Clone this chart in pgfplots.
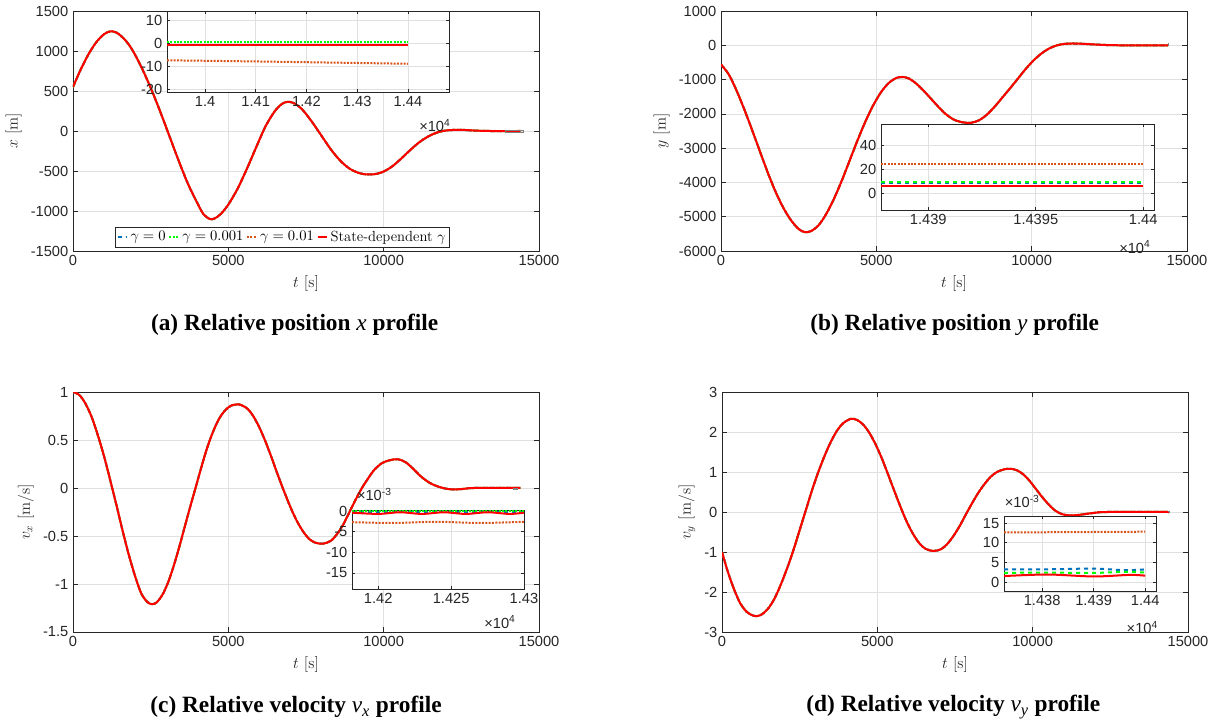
\documentclass[border=0pt]{standalone}
\usepackage{fontspec}
\usepackage{pgfplots}
\pgfplotsset{compat=1.18}
\usepackage{pgfplotstable}
\newfontfamily\arialfont{Liberation Sans}
\newfontfamily\timesfont{Liberation Serif}
\newcommand\tickfont{\arialfont\fontsize{11}{13}\selectfont}
\definecolor{mblue}{rgb}{0,0.447,0.741}
\definecolor{mgreen}{rgb}{0,1,0}
\definecolor{morange}{rgb}{0.85,0.325,0.098}
\definecolor{mred}{rgb}{1,0,0}
\definecolor{axgray}{rgb}{0.15,0.15,0.15}

\pgfplotstableread{
t v
0 550
250 770
500 960
750 1110
1000 1210
1200 1245
1400 1230
1650 1150
1900 1020
2200 800
2500 540
2800 250
3100 -60
3400 -370
3700 -660
4000 -900
4200 -1040
4400 -1100
4550 -1095
4750 -1040
5000 -920
5300 -720
5600 -470
5900 -200
6200 60
6500 250
6750 345
6950 365
7150 340
7400 260
7700 110
8000 -60
8300 -230
8600 -370
8900 -470
9200 -525
9450 -543
9700 -540
9950 -515
10250 -450
10550 -350
10850 -240
11150 -140
11450 -65
11750 -15
12050 8
12450 15
12900 6
13400 0
14400 0
}\datx

\pgfplotstableread{
t v
0 -560
250 -850
500 -1320
750 -1870
1000 -2470
1250 -3090
1500 -3700
1750 -4260
2000 -4730
2250 -5100
2500 -5360
2700 -5450
2900 -5420
3150 -5240
3400 -4900
3650 -4450
3900 -3920
4150 -3340
4400 -2760
4650 -2220
4900 -1750
5150 -1370
5400 -1100
5650 -950
5850 -925
6050 -970
6300 -1130
6600 -1400
6900 -1700
7200 -1980
7500 -2170
7800 -2250
8050 -2260
8300 -2190
8550 -2030
8800 -1800
9050 -1530
9300 -1260
9550 -980
9800 -700
10050 -450
10300 -250
10550 -100
10800 -5
11050 40
11300 52
11600 45
12000 25
12400 8
12900 0
14400 0
}\daty

\pgfplotstableread{
t v
0 1.0
200 0.97
400 0.88
600 0.74
800 0.55
1000 0.33
1200 0.08
1400 -0.18
1600 -0.45
1800 -0.7
2000 -0.92
2200 -1.1
2400 -1.19
2550 -1.21
2700 -1.19
2900 -1.1
3100 -0.95
3300 -0.75
3500 -0.52
3700 -0.28
3900 -0.05
4100 0.18
4300 0.4
4500 0.58
4700 0.72
4900 0.81
5100 0.86
5350 0.87
5600 0.83
5800 0.75
6000 0.63
6200 0.48
6400 0.31
6600 0.13
6800 -0.04
7000 -0.2
7200 -0.34
7400 -0.45
7600 -0.53
7800 -0.57
8050 -0.58
8300 -0.55
8500 -0.48
8700 -0.38
8900 -0.25
9100 -0.12
9300 0.0
9500 0.1
9700 0.19
9950 0.26
10200 0.29
10450 0.3
10700 0.27
10950 0.2
11200 0.12
11500 0.05
11800 0.01
12100 -0.012
12500 -0.012
12900 0
14400 0
}\datvx

\pgfplotstableread{
t v
0 -1.0
150 -1.4
300 -1.75
450 -2.05
600 -2.3
800 -2.5
1000 -2.59
1150 -2.6
1300 -2.55
1500 -2.4
1700 -2.15
1900 -1.8
2100 -1.4
2300 -0.95
2500 -0.45
2700 0.05
2900 0.55
3100 1.0
3300 1.4
3500 1.75
3700 2.03
3900 2.22
4150 2.33
4350 2.3
4550 2.18
4750 1.97
4950 1.68
5150 1.33
5350 0.93
5550 0.52
5750 0.12
5950 -0.25
6150 -0.55
6350 -0.78
6550 -0.92
6800 -0.975
7050 -0.93
7250 -0.8
7450 -0.6
7650 -0.35
7850 -0.06
8050 0.22
8250 0.48
8450 0.7
8650 0.88
8850 1.0
9100 1.07
9300 1.08
9500 1.04
9700 0.94
9900 0.78
10100 0.58
10300 0.38
10500 0.2
10700 0.05
10900 -0.04
11100 -0.08
11400 -0.08
11700 -0.05
12000 -0.02
12400 0
14400 0
}\datvy

\pgfplotsset{
  mat/.style={
    scale only axis, anchor=south west, scaled ticks=false,
    axis line style={draw=axgray, line width=0.5pt},
    every tick/.style={draw=axgray, line width=0.5pt},
    grid=major, major grid style={draw=black!12, line width=0.5pt},
    tick align=inside, major tick length=3.5pt,
    ticklabel style={font=\tickfont, text=axgray},
    label style={font=\fontsize{12}{14}\selectfont, text=axgray},
    axis background/.style={fill=white},
    clip mode=individual,
  },
  sb/.style={mblue, dashed, line width=1.5pt},
  sg/.style={mgreen, densely dotted, line width=1.5pt},
  sgd/.style={mgreen, dashed, line width=1.5pt},
  so/.style={morange, densely dotted, line width=1.5pt},
  sr/.style={mred, line width=1.5pt},
}

\begin{document}
\begin{tikzpicture}
\path[use as bounding box] (0,0) rectangle (912.75pt,543pt);

% (a)
\begin{axis}[mat, at={(54.75pt,354.75pt)}, width=349.5pt, height=180pt,
  xmin=0, xmax=15000, ymin=-1500, ymax=1500,
  xtick={0,5000,10000,15000}, xticklabels={0,5000,10000,15000},
  ytick={-1500,-1000,-500,0,500,1000,1500},
  yticklabels={-1500,-1000,-500,0,500,1000,1500},
  xlabel={$t\ [\mathrm{s}]$}, ylabel={$x\ [\mathrm{m}]$},
  legend style={at={(0.4496,0.058)}, anchor=center, draw=axgray, line width=0.5pt,
    font=\fontsize{11}{13}\selectfont, inner sep=1pt, row sep=0pt,
    /tikz/every even column/.append style={column sep=0pt}},
  legend columns=-1,
  legend image code/.code={\draw[#1] (0pt,0pt) -- (7pt,0pt);},
]
\addplot[sb, smooth] table {\datx}; \addlegendentry{$\gamma=0$}
\addplot[sg, smooth] table {\datx}; \addlegendentry{$\gamma=0.001$}
\addplot[so, smooth] table {\datx}; \addlegendentry{$\gamma=0.01$}
\addplot[sr, smooth] table {\datx}; \addlegendentry{State-dependent $\gamma$}
\addplot[gray, line width=0.5pt, forget plot] coordinates {(13925,-21) (14481,-21) (14481,14) (13925,14) (13925,-21)};
\end{axis}

% (b)
\begin{axis}[mat, at={(540.75pt,354.75pt)}, width=349.5pt, height=180pt,
  xmin=0, xmax=15000, ymin=-6000, ymax=1000,
  xtick={0,5000,10000,15000}, xticklabels={0,5000,10000,15000},
  ytick={-6000,-5000,...,1000},
  yticklabels={-6000,-5000,-4000,-3000,-2000,-1000,0,1000},
  xlabel={$t\ [\mathrm{s}]$}, ylabel={$y\ [\mathrm{m}]$},
]
\addplot[sb, smooth] table {\daty};
\addplot[sg, smooth] table {\daty};
\addplot[so, smooth] table {\daty};
\addplot[sr, smooth] table {\daty};
\addplot[gray, line width=0.5pt] coordinates {(14387.8,-14) (14400.5,-14) (14400.5,57.5) (14387.8,57.5) (14387.8,-14)};
\end{axis}

% (c)
\begin{axis}[mat, at={(54.75pt,69pt)}, width=349.5pt, height=180pt,
  xmin=0, xmax=15000, ymin=-1.5, ymax=1,
  xtick={0,5000,10000,15000}, xticklabels={0,5000,10000,15000},
  ytick={-1.5,-1,-0.5,0,0.5,1},
  yticklabels={-1.5,-1,-0.5,0,0.5,1},
  xlabel={$t\ [\mathrm{s}]$}, ylabel={$v_x\ [\mathrm{m/s}]$},
]
\addplot[sb, smooth] table {\datvx};
\addplot[sg, smooth] table {\datvx};
\addplot[so, smooth] table {\datvx};
\addplot[sr, smooth] table {\datvx};
\addplot[gray, line width=0.5pt] coordinates {(14182,-0.0189) (14300,-0.0189) (14300,0.0003) (14182,0.0003) (14182,-0.0189)};
\end{axis}

% (d)
\begin{axis}[mat, at={(541.5pt,69pt)}, width=349.5pt, height=180pt,
  xmin=0, xmax=15000, ymin=-3, ymax=3,
  xtick={0,5000,10000,15000}, xticklabels={0,5000,10000,15000},
  ytick={-3,-2,...,3},
  yticklabels={-3,-2,-1,0,1,2,3},
  xlabel={$t\ [\mathrm{s}]$}, ylabel={$v_y\ [\mathrm{m/s}]$},
]
\addplot[sb, smooth] table {\datvy};
\addplot[sg, smooth] table {\datvy};
\addplot[so, smooth] table {\datvy};
\addplot[sr, smooth] table {\datvy};
\addplot[gray, line width=0.5pt] coordinates {(14372.6,-0.0023) (14402.1,-0.0023) (14402.1,0.0168) (14372.6,0.0168) (14372.6,-0.0023)};
\end{axis}

% inset (a)
\begin{axis}[mat, at={(125.25pt,474pt)}, width=211.5pt, height=60.75pt,
  xmin=13925, xmax=14481, ymin=-21, ymax=14,
  xtick={14000,14100,14200,14300,14400}, xticklabels={1.4,1.41,1.42,1.43,1.44},
  ytick={-20,-10,0,10}, yticklabels={-20,-10,0,10}, major tick length=2.5pt,
]
\addplot[sb] coordinates {(13925,-0.5) (14400,-0.5)};
\addplot[sg] coordinates {(13925,0.6) (14400,0.6)};
\addplot[so] coordinates {(13925,-7.3) (14100,-7.8) (14250,-8.3) (14400,-8.8)};
\addplot[sr] coordinates {(13925,-0.9) (14400,-0.9)};
\node[font=\tickfont, text=axgray] at (rel axis cs:0.95,-0.41) {×10\textsuperscript{4}};
\end{axis}

% inset (b)
\begin{axis}[mat, at={(660.75pt,385.5pt)}, width=204.75pt, height=64.5pt,
  xmin=14387.8, xmax=14400.5, ymin=-14, ymax=57.5,
  xtick={14390,14395,14400}, xticklabels={1.439,1.4395,1.44},
  ytick={0,20,40}, yticklabels={0,20,40}, major tick length=2.5pt,
]
\addplot[sb] coordinates {(14387.8,8.7) (14400,8.7)};
\addplot[sgd] coordinates {(14387.8,9.2) (14400,9.2)};
\addplot[so] coordinates {(14387.8,24.2) (14400,24.2)};
\addplot[sr] coordinates {(14387.8,5.8) (14400,5.8)};
\node[font=\tickfont, text=axgray] at (rel axis cs:0.93,-0.43) {×10\textsuperscript{4}};
\end{axis}

% inset (c)
\begin{axis}[mat, at={(264pt,101.25pt)}, width=129pt, height=59.25pt,
  xmin=14182, xmax=14300, ymin=-18.9, ymax=0.25,
  xtick={14200,14250,14300}, xticklabels={1.42,1.425,1.43},
  ytick={-15,-10,-5,0}, yticklabels={-15,-10,-5,0}, major tick length=2.5pt,
]
\addplot[sb] coordinates {(14182,-0.2) (14400,-0.2)};
\addplot[sg] coordinates {(14182,0.0) (14400,0.0)};
\addplot[so, smooth] coordinates {(14182,-2.7) (14210,-2.9) (14240,-2.6) (14270,-2.9) (14300,-2.6)};
\addplot[sr, smooth] coordinates {(14182,-0.4) (14200,-0.7) (14215,-0.3) (14230,-0.7) (14245,-0.3) (14260,-0.7) (14275,-0.3) (14290,-0.7) (14300,-0.4)};
\node[font=\tickfont, text=axgray] at (rel axis cs:0.13,1.2) {×10\textsuperscript{-3}};
\node[font=\tickfont, text=axgray] at (rel axis cs:0.86,-0.42) {×10\textsuperscript{4}};
\end{axis}

% inset (d)
\begin{axis}[mat, at={(753pt,99.75pt)}, width=114pt, height=56.25pt,
  xmin=14372.6, xmax=14402.1, ymin=-2.3, ymax=16.8,
  xtick={14380,14390,14400}, xticklabels={1.438,1.439,1.44},
  ytick={0,5,10,15}, yticklabels={0,5,10,15}, major tick length=2.5pt,
]
\addplot[sb, smooth] coordinates {(14372.6,3.2) (14380,3.2) (14390,3.4) (14396,3.0) (14400,3.2)};
\addplot[sgd, smooth] coordinates {(14372.6,2.3) (14380,2.4) (14390,2.3) (14396,2.6) (14400,2.4)};
\addplot[so] coordinates {(14372.6,12.6) (14400,12.8)};
\addplot[sr, smooth] coordinates {(14372.6,1.5) (14381,1.9) (14390,1.4) (14397,1.8) (14400,1.6)};
\node[font=\tickfont, text=axgray] at (rel axis cs:0.12,1.19) {×10\textsuperscript{-3}};
\node[font=\tickfont, text=axgray] at (rel axis cs:0.91,-0.49) {×10\textsuperscript{4}};
\end{axis}

% captions
\node[font=\timesfont\bfseries\fontsize{17.5}{20}\selectfont] at (221pt,299.25pt) {(a) Relative position {\mdseries\itshape x} profile};
\node[font=\timesfont\bfseries\fontsize{17.5}{20}\selectfont] at (716pt,299.25pt) {(b) Relative position {\mdseries\itshape y} profile};
\node[font=\timesfont\bfseries\fontsize{17.5}{20}\selectfont] at (222pt,12.75pt) {(c) Relative velocity {\mdseries\itshape v\textsubscript{x}} profile};
\node[font=\timesfont\bfseries\fontsize{17.5}{20}\selectfont] at (715pt,12.75pt) {(d) Relative velocity {\mdseries\itshape v\textsubscript{y}} profile};
\end{tikzpicture}
\end{document}
